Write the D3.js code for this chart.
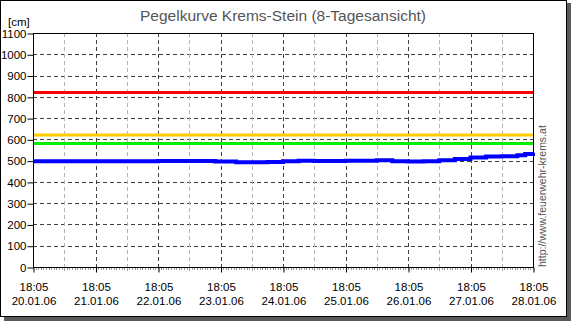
<!DOCTYPE html>
<html>
<head>
<meta charset="utf-8">
<script src="https://cdn.jsdelivr.net/npm/d3@7"></script>
<style>
  body { margin: 0; background: #fff; }
  text { font-family: "Liberation Sans", Arial, sans-serif; }
</style>
</head>
<body>
<div id="chart"></div>
<script>
// chart data
var startTime = new Date(2006, 0, 20, 18, 5);
var dayTimes = ["18:05", "18:05", "18:05", "18:05", "18:05", "18:05", "18:05", "18:05", "18:05"];
var dayDates = ["20.01.06", "21.01.06", "22.01.06", "23.01.06", "24.01.06", "25.01.06", "26.01.06", "27.01.06", "28.01.06"];
var yTicks = [0, 100, 200, 300, 400, 500, 600, 700, 800, 900, 1000, 1100];

// water level (hours after start, cm)
var levelHours = [0, 12, 24, 36, 48, 60, 70, 78, 84, 90, 96, 102, 108, 120, 132, 138, 144, 150, 156, 162, 168, 174, 180, 186, 189, 192];
var levelValues = [497, 497, 497, 497, 498, 498, 496, 493, 492, 494, 497, 499, 498, 500, 502, 497, 496, 497, 502, 508, 515, 520, 521, 525, 531, 537];

// alarm limits (cm)
var limitValues = [820, 620, 580];
var limitColors = ["#ff0000", "#ffcc00", "#00ee00"];

var svgWidth = 571;
var svgHeight = 321;

var margin = { top: 33, left: 33 };
var width = 500;
var height = 234;

var svg = d3.select("#chart")
  .append("svg")
  .attr("width", svgWidth)
  .attr("height", svgHeight);

// shadow + frame
svg.append("rect")
  .attr("x", 4).attr("y", 3)
  .attr("width", 567).attr("height", 318)
  .attr("fill", "#5a5a5a");
svg.append("rect")
  .attr("x", 0.5).attr("y", 0.5)
  .attr("width", 566).attr("height", 316)
  .attr("fill", "#fff")
  .attr("stroke", "#000");

// title
svg.append("text")
  .attr("x", 283)
  .attr("y", 21)
  .attr("text-anchor", "middle")
  .attr("font-size", "15.5px")
  .attr("fill", "#555")
  .text("Pegelkurve Krems-Stein (8-Tagesansicht)");

svg.append("text")
  .attr("x", 8)
  .attr("y", 26)
  .attr("font-size", "11.5px")
  .attr("fill", "#000")
  .text("[cm]");

var chartGroup = svg.append("g")
  .attr("transform", `translate(${margin.left}, ${margin.top})`);

var endTime = d3.timeHour.offset(startTime, 192);

var xScale = d3.scaleTime()
  .domain([startTime, endTime])
  .range([0, width]);

var yScale = d3.scaleLinear()
  .domain([0, 1100])
  .range([height, 0]);

var dayTicks = d3.range(9).map(d => d3.timeHour.offset(startTime, d * 24));
var halfTicks = d3.range(8).map(d => d3.timeHour.offset(startTime, d * 24 + 12));
var hourTicks = d3.range(193).map(d => d3.timeHour.offset(startTime, d));

// horizontal grid
chartGroup.append("g")
  .selectAll("line")
  .data(yTicks.slice(1, -1))
  .enter()
  .append("line")
  .attr("x1", 0).attr("x2", width)
  .attr("y1", d => Math.round(yScale(d)) + 0.5)
  .attr("y2", d => Math.round(yScale(d)) + 0.5)
  .attr("stroke", "#404040")
  .attr("stroke-dasharray", "4,3");

// vertical grid, half days light
chartGroup.append("g")
  .selectAll("line")
  .data(halfTicks)
  .enter()
  .append("line")
  .attr("x1", d => Math.round(xScale(d)) + 0.5)
  .attr("x2", d => Math.round(xScale(d)) + 0.5)
  .attr("y1", 0).attr("y2", height)
  .attr("stroke", "#b4b4b4")
  .attr("stroke-dasharray", "4,3");

chartGroup.append("g")
  .selectAll("line")
  .data(dayTicks.slice(1, -1))
  .enter()
  .append("line")
  .attr("x1", d => Math.round(xScale(d)) + 0.5)
  .attr("x2", d => Math.round(xScale(d)) + 0.5)
  .attr("y1", 0).attr("y2", height)
  .attr("stroke", "#404040")
  .attr("stroke-dasharray", "4,3");

// limit lines
chartGroup.append("g")
  .selectAll("line")
  .data(limitValues)
  .enter()
  .append("line")
  .attr("x1", 0).attr("x2", width)
  .attr("y1", d => yScale(d))
  .attr("y2", d => yScale(d))
  .attr("stroke", (d, i) => limitColors[i])
  .attr("stroke-width", 3);

// level line
var levelData = levelHours.map((h, i) => ({ time: d3.timeHour.offset(startTime, h), value: levelValues[i] }));

var line = d3.line()
  .x(d => xScale(d.time))
  .y(d => yScale(d.value))
  .curve(d3.curveStepAfter);

chartGroup.append("path")
  .datum(levelData)
  .attr("d", line)
  .attr("fill", "none")
  .attr("stroke", "#0000ff")
  .attr("stroke-width", 4);

// plot frame
chartGroup.append("rect")
  .attr("x", 0.5).attr("y", 0.5)
  .attr("width", width).attr("height", height)
  .attr("fill", "none")
  .attr("stroke", "#000");

// hourly minor ticks on x axis
chartGroup.append("g")
  .selectAll("line")
  .data(hourTicks)
  .enter()
  .append("line")
  .attr("x1", d => Math.round(xScale(d)) + 0.5)
  .attr("x2", d => Math.round(xScale(d)) + 0.5)
  .attr("y1", height + 1).attr("y2", height + 3)
  .attr("stroke", "#a0a0a0");

chartGroup.append("g")
  .selectAll("line")
  .data(halfTicks)
  .enter()
  .append("line")
  .attr("x1", d => Math.round(xScale(d)) + 0.5)
  .attr("x2", d => Math.round(xScale(d)) + 0.5)
  .attr("y1", height + 1).attr("y2", height + 4)
  .attr("stroke", "#a0a0a0");

// x axis
var bottomAxis = d3.axisBottom(xScale)
  .tickValues(dayTicks)
  .tickSize(5)
  .tickFormat("");

var xAxis = chartGroup.append("g")
  .attr("transform", `translate(0.5, ${height + 0.5})`)
  .call(bottomAxis);
xAxis.select(".domain").remove();
xAxis.selectAll("line").attr("stroke", "#000");

var xLabels = chartGroup.append("g")
  .selectAll("text")
  .data(dayTicks)
  .enter()
  .append("text")
  .attr("x", d => xScale(d) + 1)
  .attr("text-anchor", "middle")
  .attr("font-size", "11.5px")
  .attr("fill", "#000");
xLabels.append("tspan")
  .attr("y", height + 24)
  .text((d, i) => dayTimes[i]);
xLabels.append("tspan")
  .attr("x", d => xScale(d) + 1)
  .attr("y", height + 38)
  .text((d, i) => dayDates[i]);

// y axis
var leftAxis = d3.axisLeft(yScale)
  .tickValues(yTicks)
  .tickFormat(d3.format("d"))
  .tickSize(6)
  .tickPadding(1);

var yAxis = chartGroup.append("g")
  .attr("transform", "translate(0.5, 0.5)")
  .call(leftAxis);
yAxis.select(".domain").remove();
yAxis.selectAll("line").attr("stroke", "#000");
yAxis.selectAll("text")
  .attr("font-size", "11.5px")
  .attr("font-family", "Liberation Sans, Arial, sans-serif")
  .attr("fill", "#000");

// url on the right
svg.append("text")
  .attr("transform", "translate(546, 267) rotate(-90)")
  .attr("font-size", "10.5px")
  .attr("fill", "#555")
  .text("http://www.feuerwehr-krems.at");
</script>
</body>
</html>
